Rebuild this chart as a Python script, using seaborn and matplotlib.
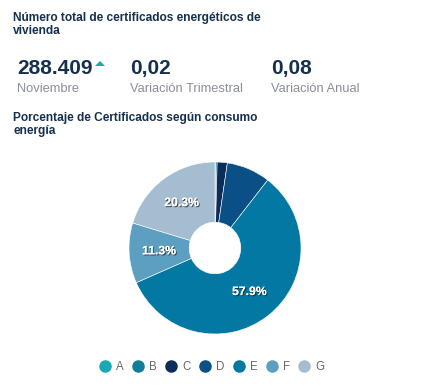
import matplotlib
matplotlib.use("Agg")
import matplotlib.pyplot as plt
import matplotlib.patheffects as pe
from matplotlib.lines import Line2D
from matplotlib.patches import Polygon
import numpy as np
import seaborn as sns

# data
categories = ["A", "B", "C", "D", "E", "F", "G"]
shares = [0.1, 0.3, 1.9, 8.2, 57.9, 11.3, 20.3]
colors = ["#19a9b4", "#0e7f97", "#0c2c5a", "#0a4f85", "#0278a2", "#5c9fc0", "#a4bdd0"]

kpi_values = ["288.409", "0,02", "0,08"]
kpi_labels = ["Noviembre", "Variación Trimestral", "Variación Anual"]

title = "Número total de certificados energéticos de\nvivienda"
subtitle = "Porcentaje de Certificados según consumo\nenergía"

sns.set_theme(style="white")
plt.rcParams["font.family"] = ["Liberation Sans", "DejaVu Sans"]
palette = sns.color_palette(colors)

W, H = 437, 391
fig = plt.figure(figsize=(W / 100, H / 100), dpi=100)
fig.patch.set_facecolor("white")

navy = "#15304f"
grey = "#8a8f96"

def fx(px):
    return px / W

def fy(py):
    return 1 - py / H

# header texts
fig.text(fx(13), fy(12), title, fontsize=8.6, fontweight="bold", color=navy,
         va="top", ha="left", linespacing=1.15)
kpi_x = [17, 130, 271]
for x, v, lab in zip(kpi_x, kpi_values, kpi_labels):
    fig.text(fx(x), fy(74), v, fontsize=15, fontweight="bold", color=navy,
             va="baseline", ha="left")
    fig.text(fx(x), fy(92), lab, fontsize=9.3, color=grey, va="baseline", ha="left")
# small up-arrow next to the main figure
fig.add_artist(Polygon([[fx(95), fy(66)], [fx(105), fy(66)], [fx(100), fy(61)]],
                       closed=True, transform=fig.transFigure, color="#1aa9a8", lw=0))
fig.text(fx(13), fy(112), subtitle, fontsize=8.6, fontweight="bold", color=navy,
         va="top", ha="left", linespacing=1.15)

# donut
cx, cy, r = 215, 248, 86
ax = fig.add_axes([fx(cx - r), fy(cy + r), 2 * r / W, 2 * r / H])
wedges, _ = ax.pie(shares, colors=palette, startangle=90, counterclock=False,
                   radius=1, wedgeprops=dict(width=0.70, edgecolor="white", linewidth=0.4))
ax.set_xlim(-1, 1)
ax.set_ylim(-1, 1)
ax.set_aspect("equal")
ax.axis("off")

total = sum(shares)
cum = np.cumsum([0] + shares)
for i, s in enumerate(shares):
    if s / total < 0.10:
        continue
    mid = (cum[i] + s / 2) / total * 360
    ang = np.deg2rad(90 - mid)
    d = 0.65
    ax.text(d * np.cos(ang), d * np.sin(ang), f"{s:.1f}%", ha="center", va="center",
            fontsize=8.8, fontweight="bold", color="white",
            path_effects=[pe.withSimplePatchShadow(offset=(0.8, -0.8), shadow_rgbFace="#1a1a1a", alpha=0.7),
                          pe.Normal()])

# legend
handles = [Line2D([0], [0], marker="o", linestyle="", markersize=8,
                  markerfacecolor=c, markeredgecolor=c) for c in palette]
fig.legend(handles, categories, loc="center", bbox_to_anchor=(fx(212), fy(367)),
           ncol=len(categories), frameon=False, fontsize=8.3, labelcolor="#666666",
           handletextpad=0.45, columnspacing=0.75, handlelength=1.0)

fig.savefig("out.png", dpi=100, facecolor="white")
